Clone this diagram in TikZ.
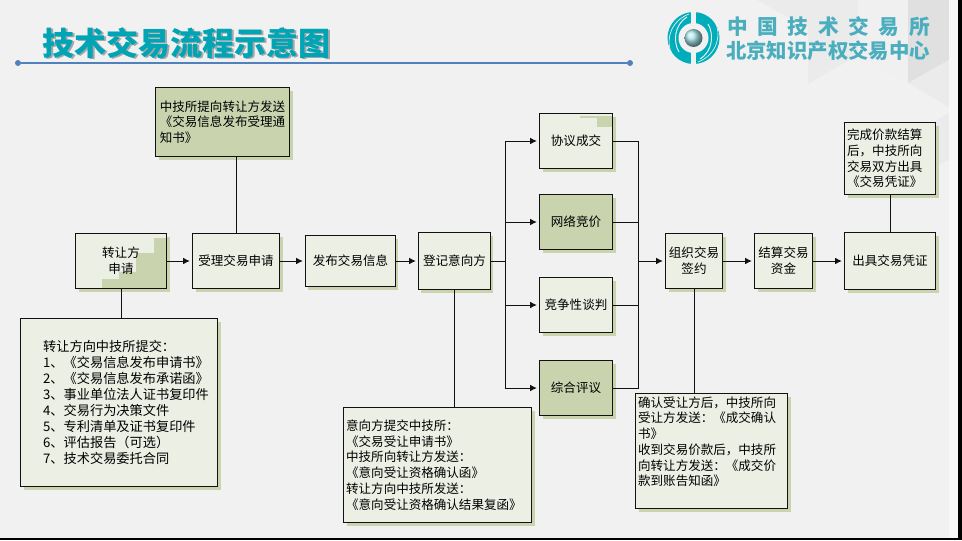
\documentclass[tikz,border=0pt]{standalone}
\usepackage{fontspec}
\setmainfont{Noto Sans CJK SC}
\usetikzlibrary{arrows.meta,positioning}
\definecolor{Slide}{HTML}{F1F1F1}
\definecolor{Ink}{HTML}{111111}
\definecolor{Paper}{HTML}{ECEFE4}
\definecolor{Sage}{HTML}{C9D4AF}
\definecolor{TitleTeal}{HTML}{00A5B5}
\definecolor{LogoTeal}{HTML}{00AEBB}
\definecolor{LogoText}{HTML}{4BAEBE}
\definecolor{RuleBlue}{HTML}{4F81BD}
\tikzset{
  openbox/.style={
    draw=Ink, line width=0.8pt, outer sep=0pt, inner sep=2pt,
    minimum height=41.25pt, align=center,
    font=\fontsize{9.4}{11.8}\selectfont
  },
  stepbox/.style={openbox, fill=Paper},
  notebox/.style={stepbox, align=left},
  flow/.style={-{Latex[length=5pt,width=5pt]}, line width=0.75pt, draw=Ink, shorten >=2pt},
  plainline/.style={line width=0.75pt, draw=Ink},
  facet/.style={draw=none}
}
\begin{document}
\begin{tikzpicture}[x=0.75pt,y=-0.75pt]
    \useasboundingbox (0,0) rectangle (962,540);
    \fill[Slide] (0,0) rectangle (962,540);
    \fill[facet,fill=black!8] (757,0)--(808,28)--(808,84)--(858,55)--(858,0)--cycle;
    \fill[facet,fill=black!6] (858,0)--(908,0)--(908,83)--(858,55)--cycle;
    \fill[facet,fill=black!12] (908,0)--(949,0)--(949,60)--(908,83)--cycle;
    \fill[facet,fill=black!8] (908,83)--(949,60)--(949,107)--cycle;
    \fill[facet,fill=black!8] (949,113)--(915,133)--(915,175)--(949,160)--cycle;
    \fill[white!97!black] (949,0) rectangle (958,538);
    \fill[black] (958,0) rectangle (962,540);
    \fill[black] (0,538) rectangle (962,540);

    \node[font=\fontsize{24}{24}\selectfont\bfseries,text=black!35] at (188,44.5) {技术交易流程示意图};
    \node[font=\fontsize{24}{24}\selectfont\bfseries,text=TitleTeal] (heading) at (186,43) {技术交易流程示意图};
    \node[circle,fill=RuleBlue,inner sep=0pt,minimum size=4.5pt] (ruleleft) at (18,63) {};
    \node[circle,fill=RuleBlue,inner sep=0pt,minimum size=4.5pt] (ruleright) at (630,63) {};
    \draw[line width=1.2pt,RuleBlue] (ruleleft)--(ruleright);

    \fill[LogoTeal] (693.5,38) circle (26);
    \fill[Slide] (691,10) rectangle (696,66);
    \fill[Slide] (693.5,38) circle (15);
    \foreach \turn in {0,180}{
      \begin{scope}[rotate around={\turn:(693.5,38)}]
        \draw[Slide,line width=0.7pt] (687,17) .. controls (674,25) and (673,42) .. (679,52);
        \draw[Slide,line width=0.5pt] (689,14) .. controls (668,22) and (666,44) .. (672,54);
      \end{scope}
    }
    \shade[ball color=LogoTeal!35!white] (693.5,38) circle (9);
    \node[font=\fontsize{15.5}{15.5}\selectfont\bfseries,text=LogoText] (logotop) at (828.5,27)
      {\makebox[152pt][s]{中\hfill 国\hfill 技\hfill 术\hfill 交\hfill 易\hfill 所}};
    \node[font=\fontsize{15.3}{15.3}\selectfont\bfseries,text=LogoText] (logobottom) at (828,51) {北京知识产权交易中心};

    \foreach \xa/\ya/\xb/\yb in {75/233/166/288,192/233/279/288,304/235/394/286,417/232/489/289,
        539/113/612/168,539/194/612/249,539/277/612/332,539/360/612/415,
        665/233/722/288,754/233/812/288,844/232/935/289,155/87/289/156,20/318/217/486,
        343/407/531/522,635/393/787/508,844/122/935/194}
      \fill[Sage] (\xa+3.5,\ya+3.5) rectangle (\xb+3.5,\yb+3.5);

    \fill[Paper] (75.5,233.5) rectangle (166.5,288.5);
    \fill[Sage] (154,238)--(166,238)--(166,288)--(102,288)--(102,279)--(119,279)--(119,272)--(136,272)--(136,253)--(154,253)--cycle;
    \node[openbox,minimum width=68.25pt] (apply) at (121,261) {转让方\\申请};
    \node[stepbox,minimum width=65.25pt,right=19.5pt of apply] (accept) {受理交易申请};
    \node[stepbox,minimum width=67.5pt,minimum height=38.25pt,right=19.5pt of accept] (publish) {发布交易信息};
    \node[stepbox,minimum width=54pt,minimum height=42.75pt,right=17.25pt of publish] (register) {登记意向方};

    \fill[Paper] (539.5,113.5) rectangle (612.5,168.5);
    \fill[Sage] (597,117) rectangle (612,127);
    \fill[Sage] (580,116) rectangle (612,117.5);
    \node[openbox,minimum width=54.75pt] (deal) at (576,141) {协议成交};
    \node[stepbox,minimum width=54.75pt,fill=Sage,below=19.5pt of deal] (auction) {网络竞价};
    \node[stepbox,minimum width=54.75pt,below=21pt of auction] (talks) {竞争性谈判};
    \node[stepbox,minimum width=54.75pt,fill=Sage,below=21pt of talks] (review) {综合评议};

    \node[stepbox,minimum width=42.75pt] (sign) at (694,261) {组织交易\\签约};
    \node[stepbox,minimum width=43.5pt,right=24pt of sign] (settle) {结算交易\\资金};
    \node[stepbox,minimum width=68.25pt,minimum height=42.75pt,right=24pt of settle] (certify) {出具交易凭证};

    \node[notebox,fill=Sage,minimum width=100.5pt,minimum height=51.75pt] (noticenote) at (222.5,122)
      {中技所提向转让方发送\\《交易信息发布受理通\\知书》};
    \node[notebox,text width=143.75pt,minimum height=126pt,
      font=\fontsize{9.9}{12}\selectfont] (submitnote) at (119,402.5)
      {\setlength{\leftskip}{15pt}转让方向中技所提交：\\1、《交易信息发布申请书》\\2、《交易信息发布承诺函》\\3、事业单位法人证书复印件\\4、交易行为决策文件\\5、专利清单及证书复印件\\6、评估报告（可选）\\7、技术交易委托合同\par};
    \node[notebox,text width=137pt,minimum height=86.25pt] (intentnote) at (437.5,465)
      {意向方提交中技所：\\《交易受让申请书》\\中技所向转让方发送：\\《意向受让资格确认函》\\转让方向中技所发送：\\《意向受让资格确认结果复函》};
    \node[notebox,text width=110pt,minimum height=86.25pt] (signnote) at (711.5,451)
      {确认受让方后，中技所向\\受让方发送：《成交确认\\书》\\收到交易价款后，中技所\\向转让方发送：《成交价\\款到账告知函》\\[3pt]\mbox{}};
    \node[notebox,text width=64.25pt,minimum height=54pt] (vouchernote) at (890,158.5)
      {完成价款结算\\后，中技所向\\交易双方出具\\《交易凭证》};

    \coordinate (split) at (505.5,261);
    \coordinate (merge) at (638.5,261);
    \draw[flow] (apply)--(accept);
    \draw[flow] (accept)--(publish);
    \draw[flow] (publish)--(register);
    \draw[plainline] (register)--(split);
    \draw[flow] (split)|-(deal);
    \draw[flow] (split)|-(auction);
    \draw[flow] (split)|-(talks);
    \draw[flow] (split)|-(review);
    \draw[plainline] (deal)-|(merge);
    \draw[plainline] (auction)-|(merge);
    \draw[plainline] (talks)-|(merge);
    \draw[plainline] (review)-|(merge);
    \draw[flow] (merge)--(sign);
    \draw[flow] (sign)--(settle);
    \draw[flow] (settle)--(certify);
    \draw[plainline] (accept.north)--(accept.north |- noticenote.south);
    \draw[plainline] (apply.south)--(apply.south |- submitnote.north);
    \draw[plainline] (register.south)--(register.south |- intentnote.north);
    \draw[plainline] (sign.south)--(sign.south |- signnote.north);
    \draw[plainline] (certify.north)--(certify.north |- vouchernote.south);
  \end{tikzpicture}
\end{document}
